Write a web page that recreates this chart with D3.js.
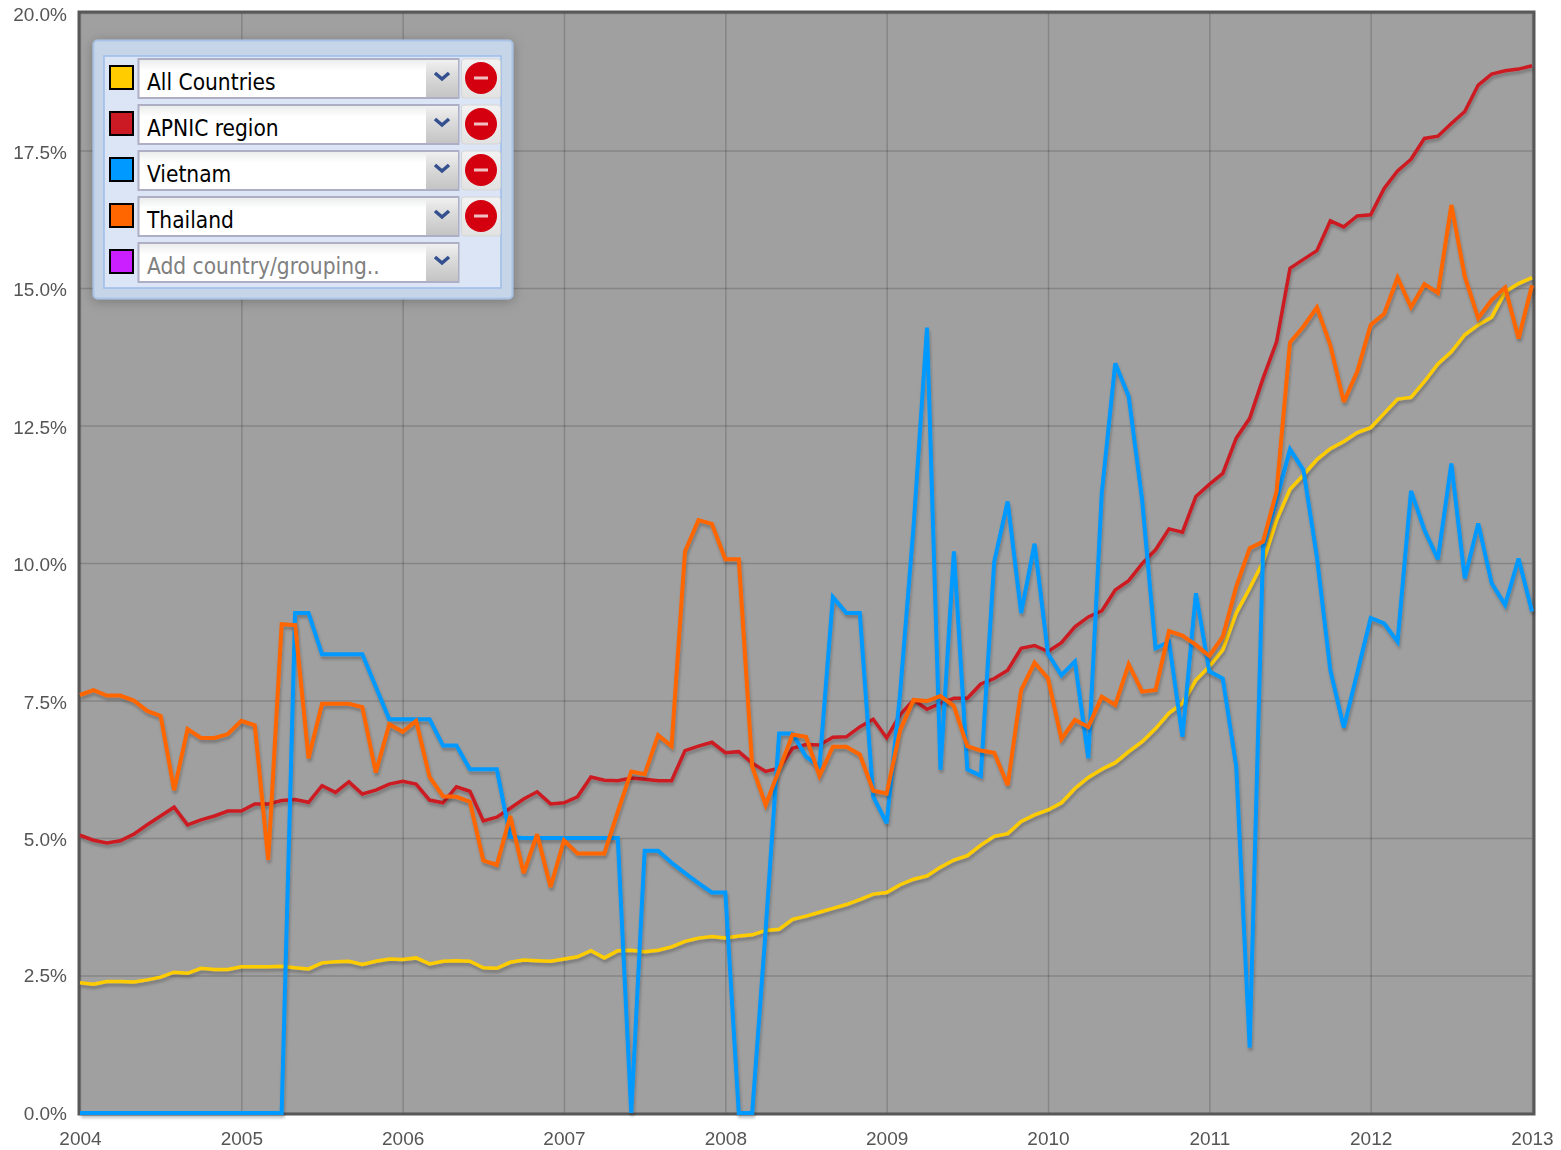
<!doctype html>
<html>
<head>
  <meta charset="utf-8">
  <title>Internet usage share</title>
  <script src="https://d3js.org/d3.v7.min.js"></script>
  <style>
  html, body {
    margin: 0;
    padding: 0;
    background: #fff;
  }
  svg {
    display: block;
    filter: blur(0.45px);
  }
  .tick text {
    font-family: "Liberation Sans", Helvetica, sans-serif;
    font-size: 19px;
    fill: #555;
  }
  .entry text {
    font-family: "DejaVu Sans Condensed", "DejaVu Sans", sans-serif;
    font-size: 22.5px;
    fill: #000;
  }
  </style>
</head>
<body>
  <svg></svg>

  <script>
  var width = 1561;
  var height = 1150;

  var yearLabels = [2004, 2005, 2006, 2007, 2008, 2009, 2010, 2011, 2012, 2013];
  var percentTicks = [0, 2.5, 5, 7.5, 10, 12.5, 15, 17.5, 20];

  // one value a month, Jan 2004 to Jan 2013
  var allCountries = [
    2.37, 2.34, 2.39, 2.39, 2.38, 2.42, 2.47, 2.56, 2.54, 2.63, 2.61, 2.61,
    2.66, 2.66, 2.66, 2.67, 2.64, 2.62, 2.73, 2.75, 2.76, 2.70, 2.76, 2.80,
    2.79, 2.82, 2.71, 2.76, 2.77, 2.76, 2.64, 2.63, 2.74, 2.78, 2.77, 2.76,
    2.80, 2.84, 2.95, 2.82, 2.95, 2.96, 2.93, 2.96, 3.02, 3.12, 3.18, 3.21,
    3.18, 3.22, 3.24, 3.32, 3.34, 3.52, 3.58, 3.65, 3.72, 3.79, 3.88, 3.98,
    4.01, 4.15, 4.25, 4.31, 4.47, 4.60, 4.68, 4.87, 5.03, 5.08, 5.30, 5.42,
    5.51, 5.64, 5.90, 6.10, 6.25, 6.37, 6.57, 6.75, 6.99, 7.27, 7.45, 7.87,
    8.12, 8.42, 9.09, 9.54, 10.02, 10.78, 11.34, 11.60, 11.88, 12.08, 12.21, 12.37,
    12.46, 12.72, 12.98, 13.01, 13.30, 13.62, 13.84, 14.15, 14.33, 14.47, 14.93, 15.08,
    15.19
  ];
  var apnicRegion = [
    5.05, 4.96, 4.91, 4.95, 5.07, 5.24, 5.40, 5.56, 5.24, 5.33, 5.40, 5.49,
    5.49, 5.62, 5.62, 5.68, 5.70, 5.65, 5.95, 5.83, 6.02, 5.80, 5.87, 5.98,
    6.03, 5.98, 5.69, 5.64, 5.93, 5.85, 5.31, 5.38, 5.54, 5.71, 5.84, 5.62,
    5.64, 5.75, 6.11, 6.05, 6.04, 6.09, 6.07, 6.04, 6.04, 6.59, 6.67, 6.74,
    6.55, 6.57, 6.36, 6.21, 6.27, 6.63, 6.70, 6.69, 6.83, 6.84, 7.02, 7.16,
    6.82, 7.24, 7.51, 7.34, 7.45, 7.54, 7.54, 7.80, 7.90, 8.05, 8.45, 8.50,
    8.39, 8.55, 8.84, 9.02, 9.13, 9.51, 9.68, 9.99, 10.24, 10.62, 10.56, 11.21,
    11.43, 11.63, 12.27, 12.63, 13.36, 14.02, 15.36, 15.52, 15.68, 16.22, 16.11, 16.31,
    16.33, 16.81, 17.13, 17.34, 17.72, 17.76, 17.99, 18.21, 18.69, 18.89, 18.95, 18.98,
    19.04
  ];
  var vietnam = [
    0, 0, 0, 0, 0, 0, 0, 0, 0, 0, 0, 0,
    0, 0, 0, 0, 9.09, 9.09, 8.34, 8.34, 8.34, 8.34, 7.75, 7.16,
    7.16, 7.16, 7.16, 6.68, 6.68, 6.25, 6.25, 6.25, 5.02, 5.00, 5.00, 5.00,
    5.00, 5.00, 5.00, 5.00, 5.00, 0, 4.77, 4.77, 4.55, 4.36, 4.18, 4.01,
    4.01, 0, 0, 3.33, 6.90, 6.90, 6.48, 6.30, 9.38, 9.09, 9.09, 5.75,
    5.27, 7.63, 10.66, 14.28, 6.24, 10.21, 6.25, 6.13, 10.02, 11.12, 9.09, 10.35,
    8.35, 7.96, 8.21, 6.45, 11.27, 13.63, 13.03, 11.15, 8.45, 8.57, 6.84, 9.45,
    8.03, 7.90, 6.30, 1.19, 10.30, 11.15, 12.07, 11.69, 10.11, 8.05, 7.01, 8.00,
    9.00, 8.90, 8.57, 11.31, 10.60, 10.07, 11.81, 9.72, 10.72, 9.63, 9.24, 10.08,
    9.12
  ];
  var thailand = [
    7.60, 7.69, 7.59, 7.59, 7.50, 7.31, 7.22, 5.87, 6.98, 6.82, 6.82, 6.89,
    7.13, 7.05, 4.60, 8.89, 8.87, 6.45, 7.44, 7.44, 7.44, 7.38, 6.19, 7.07,
    6.93, 7.13, 6.11, 5.76, 5.75, 5.66, 4.59, 4.51, 5.40, 4.36, 5.07, 4.11,
    4.96, 4.72, 4.72, 4.72, 5.48, 6.21, 6.16, 6.87, 6.67, 10.21, 10.78, 10.71,
    10.07, 10.07, 6.30, 5.60, 6.24, 6.88, 6.84, 6.13, 6.66, 6.66, 6.52, 5.86,
    5.81, 6.96, 7.51, 7.49, 7.58, 7.40, 6.67, 6.59, 6.55, 5.96, 7.69, 8.19,
    7.90, 6.80, 7.15, 7.02, 7.57, 7.42, 8.16, 7.66, 7.69, 8.76, 8.68, 8.51,
    8.31, 8.66, 9.57, 10.27, 10.39, 11.30, 14.01, 14.30, 14.65, 13.96, 12.93, 13.48,
    14.33, 14.53, 15.19, 14.65, 15.07, 14.91, 16.51, 15.21, 14.45, 14.78, 15.01, 14.08,
    15.05
  ];

  var legendNames = ['All Countries', 'APNIC region', 'Vietnam', 'Thailand', 'Add country/grouping..'];
  var legendColors = ['#ffcc00', '#cc1a24', '#0099ff', '#ff6600', '#cc1fff'];
  var lineWidths = [3.5, 3.5, 4, 4];

  var x = d3.scaleLinear().domain([2004, 2013]).range([80, 1532]);
  var y = d3.scaleLinear().domain([0, 20]).range([1113, 13]);

  var svg = d3.select('svg')
    .attr('width', width)
    .attr('height', height);

  var defs = svg.append('defs');

  var shadow = defs.append('filter').attr('id', 'lineShadow')
    .attr('x', '-5%').attr('y', '-5%').attr('width', '110%').attr('height', '110%');
  shadow.append('feDropShadow')
    .attr('dx', 1).attr('dy', 3).attr('stdDeviation', 1.6)
    .attr('flood-color', '#000').attr('flood-opacity', 0.25);

  var panelShadow = defs.append('filter').attr('id', 'panelShadow')
    .attr('x', '-10%').attr('y', '-10%').attr('width', '120%').attr('height', '125%');
  panelShadow.append('feDropShadow')
    .attr('dx', 0).attr('dy', 2).attr('stdDeviation', 6)
    .attr('flood-color', '#000').attr('flood-opacity', 0.25);

  function gradient(id, stops){
    var g = defs.append('linearGradient').attr('id', id)
      .attr('x1', 0).attr('y1', 0).attr('x2', 0).attr('y2', 1);
    stops.forEach(function(s){
      g.append('stop').attr('offset', s[0]).attr('stop-color', s[1]);
    });
  }
  gradient('fieldFill', [[0, '#e9ecea'], [0.3, '#ffffff'], [1, '#ffffff']]);
  gradient('dropFill', [[0, '#f0f0f0'], [0.4, '#dcdcdc'], [1, '#c4c4c4']]);
  gradient('removeFill', [[0, '#f2f2f2'], [1, '#e2e2e2']]);

  // plot area
  svg.append('rect')
    .attr('x', x(2004) - 1).attr('y', y(20) - 1)
    .attr('width', x(2013) - x(2004) + 3).attr('height', y(0) - y(20) + 2)
    .attr('fill', '#a0a0a0');

  var xAxis = d3.axisBottom(x)
    .tickValues(yearLabels)
    .tickFormat(function(d){ return d; })
    .tickSize(-(y(0) - y(20)))
    .tickPadding(19);

  var yAxis = d3.axisLeft(y)
    .tickValues(percentTicks)
    .tickFormat(function(d){ return d.toFixed(1) + '%'; })
    .tickSize(-(x(2013) - x(2004)))
    .tickPadding(13);

  var xG = svg.append('g').attr('transform', 'translate(0,' + y(0) + ')').call(xAxis);
  var yG = svg.append('g').attr('transform', 'translate(' + x(2004) + ',0)').call(yAxis);

  svg.selectAll('.domain').remove();
  svg.selectAll('.tick line')
    .attr('stroke', '#000')
    .attr('stroke-opacity', 0.17)
    .attr('stroke-width', 1.5);
  yG.selectAll('.tick text')
    .attr('dy', function(d){ return d === 20 ? '0.42em' : d < 5 ? '0.32em' : '0.4em'; });

  // frame
  svg.append('rect')
    .attr('x', x(2004) - 1).attr('y', y(20) - 1)
    .attr('width', x(2013) - x(2004) + 3).attr('height', y(0) - y(20) + 2)
    .attr('fill', 'none')
    .attr('stroke', '#585858')
    .attr('stroke-width', 3);

  var line = d3.line()
    .x(function(d, i){ return x(2004 + i / 12); })
    .y(function(d){ return y(d); });

  var series = [allCountries, apnicRegion, vietnam, thailand];

  svg.append('g').selectAll('path')
    .data(series)
    .enter().append('path')
      .attr('d', line)
      .attr('fill', 'none')
      .attr('stroke', function(d, i){ return legendColors[i]; })
      .attr('stroke-width', function(d, i){ return lineWidths[i]; })
      .attr('stroke-linejoin', 'miter')
      .attr('stroke-miterlimit', 3)
      .attr('filter', 'url(#lineShadow)');

  // legend box
  var legend = svg.append('g').attr('transform', 'translate(93,40)');

  legend.append('rect')
    .attr('x', 0.5).attr('y', 0.5).attr('width', 419).attr('height', 258).attr('rx', 4)
    .attr('fill', '#c6d6e8')
    .attr('stroke', '#a9c3e6')
    .attr('stroke-width', 2)
    .attr('filter', 'url(#panelShadow)');

  legend.append('rect')
    .attr('x', 11).attr('y', 16).attr('width', 397).attr('height', 232)
    .attr('fill', '#dbe5f6')
    .attr('stroke', '#9ebde8')
    .attr('stroke-width', 1.5);

  var entries = legend.selectAll('.entry')
    .data(legendNames)
    .enter().append('g')
      .attr('class', 'entry')
      .attr('transform', function(d, i){ return 'translate(0,' + (i * 46) + ')'; });

  entries.append('rect')
    .attr('x', 17).attr('y', 26).attr('width', 23).attr('height', 23)
    .attr('fill', function(d, i){ return legendColors[i]; })
    .attr('stroke', '#000')
    .attr('stroke-width', 2);

  entries.append('rect')
    .attr('x', 45.5).attr('y', 19).attr('width', 320).attr('height', 39)
    .attr('fill', 'url(#fieldFill)')
    .attr('stroke', '#aeaec4')
    .attr('stroke-width', 2);

  entries.append('rect')
    .attr('x', 333).attr('y', 20).attr('width', 32).attr('height', 37)
    .attr('fill', 'url(#dropFill)');

  entries.append('path')
    .attr('d', 'M342,33 L349,39 L356,33')
    .attr('fill', 'none')
    .attr('stroke', '#34508f')
    .attr('stroke-width', 3.5);

  entries.append('text')
    .attr('x', 54).attr('y', 50)
    .style('fill', function(d, i){ return i === 4 ? '#808080' : '#000'; })
    .text(function(d){ return d; });

  var removers = entries.filter(function(d, i){ return i < 4; });

  removers.append('rect')
    .attr('x', 368.5).attr('y', 19).attr('width', 39).attr('height', 39).attr('rx', 3)
    .attr('fill', 'url(#removeFill)')
    .attr('stroke', '#d5d5d5')
    .attr('stroke-width', 1);

  removers.append('circle')
    .attr('cx', 388).attr('cy', 38).attr('r', 16)
    .attr('fill', '#d4000f');

  removers.append('rect')
    .attr('x', 381).attr('y', 36.5).attr('width', 14).attr('height', 3)
    .attr('fill', '#f0c0c0');
  </script>
</body>
</html>
